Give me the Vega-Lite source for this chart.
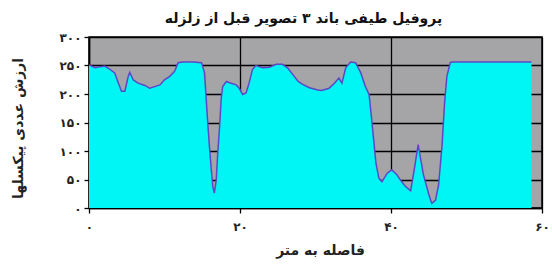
{
  "$schema": "https://vega.github.io/schema/vega-lite/v6.json",
  "autosize": "none",
  "width": 453,
  "height": 171,
  "padding": {"left": 89, "top": 37, "right": 10, "bottom": 56},
  "background": "white",
  "config": {
    "locale": {"number": {"decimal": ".", "thousands": ",", "grouping": [3], "currency": ["", ""], "numerals": ["۰","۱","۲","۳","۴","۵","۶","۷","۸","۹"]}},
    "view": {"fill": "#a5a4a7", "stroke": "#000000", "strokeWidth": 1.5},
    "font": "DejaVu Sans"
  },
  "title": {"text": "پروفیل طیفی باند ۳ تصویر قبل از زلزله", "font": "DejaVu Sans", "fontSize": 14, "fontWeight": "bold", "color": "#111111", "anchor": "middle", "dx": -12, "offset": 5},
  "data": {"values": [
    {"x": 0, "v": 251}, {"x": 0.8, "v": 246}, {"x": 1.5, "v": 248}, {"x": 2.1, "v": 249}, {"x": 2.8, "v": 243},
    {"x": 3.4, "v": 237}, {"x": 3.9, "v": 219}, {"x": 4.3, "v": 205}, {"x": 4.75, "v": 205}, {"x": 5.2, "v": 231},
    {"x": 5.4, "v": 238}, {"x": 5.85, "v": 225}, {"x": 6.5, "v": 219}, {"x": 7.4, "v": 215}, {"x": 8.05, "v": 210},
    {"x": 8.7, "v": 213}, {"x": 9.4, "v": 216}, {"x": 10.0, "v": 225}, {"x": 10.7, "v": 231}, {"x": 11.35, "v": 240},
    {"x": 11.8, "v": 255}, {"x": 12.4, "v": 256}, {"x": 13.8, "v": 256}, {"x": 14.9, "v": 255}, {"x": 15.3, "v": 237},
    {"x": 15.5, "v": 196}, {"x": 15.7, "v": 155}, {"x": 15.95, "v": 108}, {"x": 16.2, "v": 67}, {"x": 16.4, "v": 37},
    {"x": 16.6, "v": 26}, {"x": 16.85, "v": 49}, {"x": 17.05, "v": 96}, {"x": 17.3, "v": 143}, {"x": 17.5, "v": 190},
    {"x": 17.7, "v": 213}, {"x": 18.2, "v": 222}, {"x": 18.8, "v": 219}, {"x": 19.5, "v": 216}, {"x": 19.9, "v": 210},
    {"x": 20.35, "v": 199}, {"x": 20.8, "v": 202}, {"x": 21.2, "v": 219}, {"x": 21.65, "v": 243}, {"x": 22.1, "v": 250},
    {"x": 23.0, "v": 246}, {"x": 23.9, "v": 247}, {"x": 24.8, "v": 252}, {"x": 25.6, "v": 252}, {"x": 26.3, "v": 246},
    {"x": 27.0, "v": 234}, {"x": 27.7, "v": 222}, {"x": 28.3, "v": 217}, {"x": 29.2, "v": 211}, {"x": 30.3, "v": 207},
    {"x": 30.8, "v": 206}, {"x": 31.8, "v": 210}, {"x": 32.5, "v": 219}, {"x": 33.1, "v": 228}, {"x": 33.5, "v": 219},
    {"x": 34.0, "v": 246}, {"x": 34.65, "v": 256}, {"x": 35.3, "v": 255}, {"x": 36.0, "v": 237}, {"x": 36.6, "v": 213},
    {"x": 37.1, "v": 199}, {"x": 37.4, "v": 161}, {"x": 37.7, "v": 120}, {"x": 38.0, "v": 79}, {"x": 38.4, "v": 52},
    {"x": 38.8, "v": 46}, {"x": 39.5, "v": 61}, {"x": 40.1, "v": 67}, {"x": 40.8, "v": 58}, {"x": 41.25, "v": 49},
    {"x": 41.9, "v": 38}, {"x": 42.6, "v": 30}, {"x": 43.0, "v": 61}, {"x": 43.6, "v": 111}, {"x": 43.9, "v": 88},
    {"x": 44.3, "v": 58}, {"x": 45.0, "v": 24}, {"x": 45.4, "v": 8}, {"x": 45.9, "v": 14}, {"x": 46.3, "v": 40},
    {"x": 46.75, "v": 108}, {"x": 47.1, "v": 185}, {"x": 47.4, "v": 231}, {"x": 47.85, "v": 255}, {"x": 48.1, "v": 256},
    {"x": 58.6, "v": 256}
  ]},
  "mark": {"type": "area", "color": "#00f5f5", "opacity": 1, "line": {"color": "#5a48c8", "strokeWidth": 1.5}},
  "encoding": {
    "x": {"field": "x", "type": "quantitative", "scale": {"domain": [0, 60], "nice": false},
      "axis": {"title": "فاصله به متر", "values": [0, 20, 40, 60], "grid": true, "gridColor": "#000000", "gridOpacity": 1, "gridWidth": 1.3,
        "domainColor": "#000000", "domainWidth": 1.5, "tickColor": "#000000", "tickSize": 5, "tickWidth": 1.3,
        "labelFont": "DejaVu Sans", "labelFontSize": 12, "labelFontWeight": "bold", "labelColor": "#222222", "labelPadding": 8, "labelFlush": false,
        "titleFont": "DejaVu Sans", "titleFontSize": 14, "titleFontWeight": "bold", "titleColor": "#222222", "titleX": 231, "titleY": 42, "titleBaseline": "middle"}},
    "y": {"field": "v", "type": "quantitative", "scale": {"domain": [0, 300], "nice": false},
      "axis": {"title": "ارزش عددی پیکسلها", "values": [0, 50, 100, 150, 200, 250, 300], "grid": true, "gridColor": "#000000", "gridOpacity": 1, "gridWidth": 1.3,
        "domainColor": "#000000", "domainWidth": 1.5, "tickColor": "#000000", "tickSize": 5, "tickWidth": 1.3,
        "labelFont": "DejaVu Sans", "labelFontSize": 12, "labelFontWeight": "bold", "labelColor": "#222222", "labelPadding": 3,
        "titleFont": "DejaVu Sans", "titleFontSize": 14, "titleFontWeight": "bold", "titleColor": "#222222", "titleX": -71, "titleY": 91, "titleAlign": "center", "titleBaseline": "middle"}}
  }
}
